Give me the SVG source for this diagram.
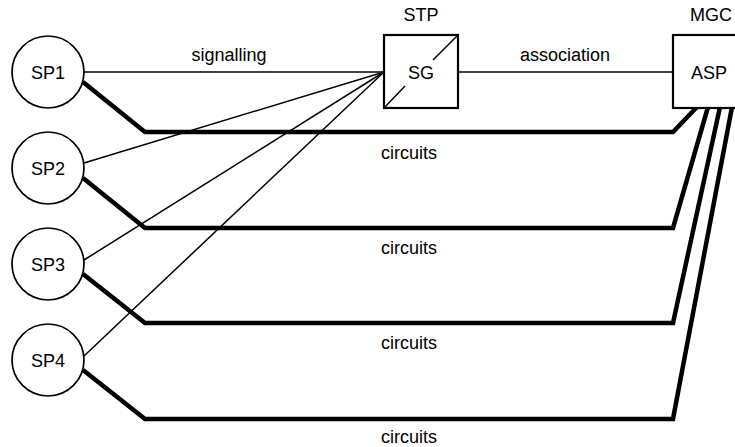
<svg xmlns="http://www.w3.org/2000/svg" width="735" height="447" viewBox="0 0 735 447">
<style>
text{font-family:"Liberation Sans",Arial,sans-serif;font-size:18px;fill:#000;text-anchor:middle}
.c{fill:#fff;stroke:#000;stroke-width:1.7}
.b{fill:#fff;stroke:#000;stroke-width:2.2}
.thin{fill:none;stroke:#000;stroke-width:1.5}
.thick{fill:none;stroke:#000;stroke-width:4.5;stroke-linejoin:miter}
</style>
<rect width="735" height="447" fill="#fff"/>
<g id="connectors">
<line class="thin" x1="84" y1="72" x2="384" y2="72"/>
<line class="thin" x1="458" y1="72" x2="673" y2="72"/>
<line class="thin" x1="84" y1="163" x2="384" y2="72"/>
<line class="thin" x1="84" y1="260" x2="384" y2="72"/>
<line class="thin" x1="84" y1="356" x2="384" y2="72"/>
<polyline class="thick" points="83,82 145,132 673,132 697,107"/>
<polyline class="thick" points="83,178 145,228 673,228 708,107"/>
<polyline class="thick" points="83,274 145,323 673,323 720,107"/>
<polyline class="thick" points="83,370 145,419 673,419 732,107"/>
<text x="229" y="61">signalling</text>
<text x="565" y="61">association</text>
<text x="409" y="159">circuits</text>
<text x="409" y="254">circuits</text>
<text x="409" y="349">circuits</text>
<text x="409" y="443">circuits</text>
</g>
<g id="SP1"><circle class="c" cx="48" cy="72" r="36"/><text x="48" y="79">SP1</text></g>
<g id="SP2"><circle class="c" cx="48" cy="168" r="36"/><text x="48" y="175">SP2</text></g>
<g id="SP3"><circle class="c" cx="48" cy="264" r="36"/><text x="48" y="271">SP3</text></g>
<g id="SP4"><circle class="c" cx="48" cy="360" r="36"/><text x="48" y="367">SP4</text></g>
<g id="SG">
<rect class="b" x="384" y="35" width="74" height="73"/>
<line class="thin" x1="384" y1="108" x2="405" y2="86"/>
<line class="thin" x1="433" y1="60" x2="458" y2="35"/>
<text x="421" y="79">SG</text>
<text x="421" y="21">STP</text>
</g>
<g id="ASP">
<rect class="b" x="673" y="35" width="80" height="73"/>
<text x="709" y="79">ASP</text>
<text x="711" y="21">MGC</text>
</g>
</svg>
